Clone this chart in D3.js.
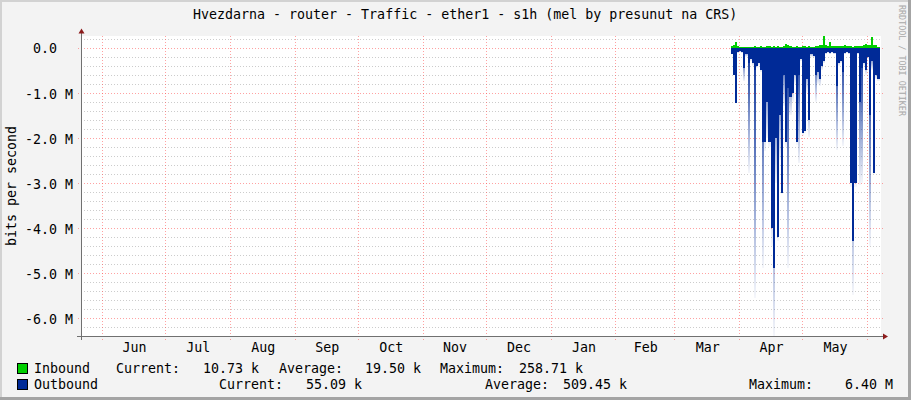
<!DOCTYPE html>
<html>
<head>
<meta charset="utf-8">
<script src="https://cdn.jsdelivr.net/npm/d3@7"></script>
<style>
  html, body { margin: 0; padding: 0; background: #f3f3f3; }
  svg { display: block; font-family: "DejaVu Sans Mono", monospace; }
  text { white-space: pre; }
</style>
</head>
<body>
<svg id="chart" width="911" height="400"></svg>
<script>
// one value per day, starting at dataStart
const dataStart = Date.UTC(2025, 2, 28);

// inbound, kbit/s
const inboundK = [
  30, 70, 120, 40, 15, 20, 15, 25, 20, 15,
  25, 30, 20, 15, 30, 20, 25, 40, 30, 20,
  35, 25, 30, 20, 25, 40, 75, 65, 45, 25,
  20, 30, 25, 20, 35, 40, 25, 30, 25, 20,
  30, 45, 55, 60, 258.71, 50, 40, 130, 45, 35,
  30, 40, 45, 35, 50, 40, 30, 35, 25, 30,
  40, 35, 45, 50, 90, 70, 60, 230, 70, 50,
  10.73
];

// outbound average, Mbit/s (drawn below zero)
const outAvgM = [
  0.15, 0.6, 1.23, 0.1, 0.08, 0.1, 0.45, 0.15, 0.35, 0.25,
  0.35, 0.5, 0.4, 0.35, 0.5, 2.1, 2.1, 1.2, 2.1, 4.0,
  4.9, 2.0, 4.2, 1.5, 3.22, 0.6, 2.1, 0.9, 1.1, 1.0,
  0.6, 2.1, 0.6, 0.25, 1.9, 1.85, 0.7, 1.6, 0.15, 0.18,
  0.6, 0.55, 0.7, 0.4, 0.3, 0.12, 0.1, 0.12, 0.1, 0.12,
  0.85, 0.34, 0.3, 0.53, 0.12, 0.1, 0.12, 3.0, 4.3, 3.0,
  0.12, 1.2, 0.45, 0.35, 0.5, 0.2, 1.5, 0.3, 2.78, 0.6,
  0.7
];

// outbound peaks, Mbit/s (faded part)
const outPeakM = [
  0.15, 0.6, 1.23, 0.12, 0.1, 0.12, 0.75, 0.2, 2.78, 0.3,
  0.4, 5.55, 0.45, 0.4, 0.55, 4.9, 2.3, 2.0, 2.2, 4.4,
  6.40, 3.0, 4.3, 2.5, 3.25, 1.3, 2.2, 4.9, 1.5, 1.2,
  0.8, 2.15, 2.57, 0.3, 1.95, 1.9, 1.0, 1.98, 0.2, 0.22,
  1.2, 0.8, 0.85, 0.5, 0.35, 0.15, 0.12, 0.15, 0.12, 0.15,
  2.28, 0.4, 0.35, 2.18, 0.15, 0.12, 0.15, 3.1, 5.48, 3.1,
  0.15, 3.05, 3.0, 0.4, 0.6, 0.25, 4.4, 0.5, 2.8, 0.7,
  0.75
];

const yTicksM = [0, -1, -2, -3, -4, -5, -6];
const monthLabels = ["Jun", "Jul", "Aug", "Sep", "Oct", "Nov", "Dec", "Jan", "Feb", "Mar", "Apr", "May"];

const legendNames = ["Inbound", "Outbound"];
const legendColors = ["#00CF00", "#002A97"];
const curLabels = ["10.73 k", "55.09 k"];
const avgLabels = ["19.50 k", "509.45 k"];
const maxLabels = ["258.71 k", "6.40 M"];

const title = "Hvezdarna - router - Traffic - ether1 - s1h (mel by presunut na CRS)";

// ---------------------------------------------------------------
const W = 911, H = 400;
const plot = { left: 81, right: 881, top: 36, bottom: 336 };
const FS = "13.3px";

const svg = d3.select("#chart");

const x = d3.scaleUtc()
  .domain([new Date(Date.UTC(2024, 4, 22)), new Date(Date.UTC(2025, 5, 7, 16, 20))])
  .range([plot.left, plot.right]);

const y = d3.scaleLinear()
  .domain([-d3.max(outPeakM) * 1e6, d3.max(inboundK) * 1e3])
  .range([plot.bottom, plot.top]);

const rows = inboundK.map((v, i) => ({
  t: new Date(dataStart + i * 864e5),
  t1: new Date(dataStart + (i + 1) * 864e5),
  inb: v * 1e3,
  avg: -outAvgM[i] * 1e6,
  peak: -outPeakM[i] * 1e6
}));
const stepRows = rows.concat([{ ...rows[rows.length - 1], t: rows[rows.length - 1].t1 }]);

// frame
svg.append("rect").attr("width", W).attr("height", H).attr("fill", "#f3f3f3");
svg.append("rect").attr("x", 0).attr("y", 0).attr("width", W).attr("height", 2).attr("fill", "#d2d2d2");
svg.append("rect").attr("x", 0).attr("y", 0).attr("width", 2).attr("height", H).attr("fill", "#d2d2d2");
svg.append("rect").attr("x", W - 3).attr("y", 0).attr("width", 3).attr("height", H).attr("fill", "#a4a4a4");
svg.append("rect").attr("x", 0).attr("y", H - 3).attr("width", W).attr("height", 3).attr("fill", "#a4a4a4");

// plot background
svg.append("rect")
  .attr("x", plot.left).attr("y", plot.top)
  .attr("width", plot.right - plot.left).attr("height", plot.bottom - plot.top)
  .attr("fill", "#ffffff");

// grid
const grid = svg.append("g").attr("shape-rendering", "crispEdges");
const minor = d3.range(-32, 2).map((i) => i * 0.2e6).filter((v) => Math.abs(v / 1e6 - Math.round(v / 1e6)) > 1e-6);
grid.selectAll("line.minor").data(minor).join("line")
  .attr("x1", plot.left).attr("x2", plot.right)
  .attr("y1", (d) => Math.round(y(d)) + 0.5).attr("y2", (d) => Math.round(y(d)) + 0.5)
  .attr("stroke", "rgba(127,127,127,0.4)").attr("stroke-dasharray", "1,2");

grid.selectAll("line.major").data(yTicksM).join("line")
  .attr("x1", plot.left - 3).attr("x2", plot.right + 3)
  .attr("y1", (d) => Math.round(y(d * 1e6)) + 0.5).attr("y2", (d) => Math.round(y(d * 1e6)) + 0.5)
  .attr("stroke", "rgba(255,70,70,0.5)").attr("stroke-dasharray", "1,2");

const monthStarts = d3.utcMonth.range(x.domain()[0], x.domain()[1]);
grid.selectAll("line.month").data(monthStarts).join("line")
  .attr("x1", (d) => Math.round(x(d)) + 0.5).attr("x2", (d) => Math.round(x(d)) + 0.5)
  .attr("y1", plot.top).attr("y2", plot.bottom + 4)
  .attr("stroke", "rgba(255,70,70,0.5)").attr("stroke-dasharray", "1,2");

// gradient for the faded peaks
const defs = svg.append("defs");
const grad = defs.append("linearGradient").attr("id", "fade")
  .attr("x1", 0).attr("y1", 0).attr("x2", 0).attr("y2", 1);
grad.append("stop").attr("offset", 0).attr("stop-color", "#002A97").attr("stop-opacity", 0.95);
grad.append("stop").attr("offset", 0.35).attr("stop-color", "#002A97").attr("stop-opacity", 0.7);
grad.append("stop").attr("offset", 1).attr("stop-color", "#002A97").attr("stop-opacity", 0.04);

svg.append("g").attr("shape-rendering", "crispEdges")
  .selectAll("rect").data(rows.filter((r) => r.peak < r.avg)).join("rect")
  .attr("x", (d) => x(d.t))
  .attr("width", (d) => x(d.t1) - x(d.t))
  .attr("y", y(0))
  .attr("height", (d) => y(d.peak) - y(0))
  .attr("fill", "url(#fade)");

// outbound area
svg.append("path").datum(stepRows)
  .attr("d", d3.area().curve(d3.curveStepAfter)
    .x((d) => x(d.t)).y0(y(0)).y1((d) => y(d.avg)))
  .attr("fill", legendColors[1]).attr("shape-rendering", "crispEdges");

// inbound area
svg.append("path").datum(stepRows)
  .attr("d", d3.area().curve(d3.curveStepAfter)
    .x((d) => x(d.t)).y0(y(0)).y1((d) => y(d.inb)))
  .attr("fill", legendColors[0]).attr("shape-rendering", "crispEdges");

// axes
const axisColor = "#707070";
svg.append("line")
  .attr("x1", plot.left - 4).attr("x2", plot.right + 3)
  .attr("y1", plot.bottom + 0.5).attr("y2", plot.bottom + 0.5)
  .attr("stroke", axisColor).attr("shape-rendering", "crispEdges");
svg.append("line")
  .attr("x1", plot.left + 0.5).attr("x2", plot.left + 0.5)
  .attr("y1", plot.bottom + 4).attr("y2", plot.top - 3)
  .attr("stroke", axisColor).attr("shape-rendering", "crispEdges");
const arrowColor = "#8c1c1c";
svg.append("path")
  .attr("d", `M${plot.left - 2.5},${plot.top - 2.5} L${plot.left + 3.5},${plot.top - 2.5} L${plot.left + 0.5},${plot.top - 7.5} Z`)
  .attr("fill", arrowColor);
svg.append("path")
  .attr("d", `M${plot.right + 2},${plot.bottom - 2.5} L${plot.right + 2},${plot.bottom + 3.5} L${plot.right + 7},${plot.bottom + 0.5} Z`)
  .attr("fill", arrowColor);

// y tick labels
svg.append("g").selectAll("text").data(yTicksM).join("text")
  .attr("x", 73)
  .attr("y", (d) => y(d * 1e6) + 5.8)
  .attr("text-anchor", "end")
  .attr("font-size", FS)
  .attr("fill", "#000")
  .text((d) => (d === 0 ? "0.0  " : `${d.toFixed(1)} M`));

// month labels
svg.append("g").selectAll("text").data(monthLabels).join("text")
  .attr("x", (d, i) => (x(monthStarts[i]) + x(monthStarts[i + 1])) / 2 + 1)
  .attr("y", 352)
  .attr("text-anchor", "middle")
  .attr("font-size", FS)
  .attr("fill", "#000")
  .text((d) => d);

// title
svg.append("text")
  .attr("x", 193).attr("y", 19)
  .attr("font-size", FS).attr("fill", "#000")
  .text(title);

// y axis title
svg.append("text")
  .attr("transform", `translate(16,${(plot.top + plot.bottom) / 2}) rotate(-90)`)
  .attr("text-anchor", "middle")
  .attr("font-size", FS).attr("fill", "#000")
  .text("bits per second");

// credit
svg.append("text")
  .attr("transform", "translate(899,5) rotate(90)")
  .attr("font-size", "8.4px").attr("fill", "#a8a8a8")
  .text("RRDTOOL / TOBI OETIKER");

// legend
const legendRowsY = [373, 389];
const legendCols = [
  { curL: 116, curV: 259, avgL: 279, avgV: 421, maxL: 440, maxV: 583 },
  { curL: 219, curV: 362, avgL: 485, avgV: 627, maxL: 749, maxV: 893 }
];
const lg = svg.append("g").attr("font-size", FS).attr("fill", "#000");
legendNames.forEach((name, i) => {
  const by = legendRowsY[i];
  const c = legendCols[i];
  lg.append("rect")
    .attr("x", 17.5).attr("y", by - 9.5).attr("width", 10).attr("height", 10)
    .attr("fill", legendColors[i]).attr("stroke", "#000").attr("stroke-width", 1);
  lg.append("text").attr("x", 34).attr("y", by).text(name);
  lg.append("text").attr("x", c.curL).attr("y", by).text("Current:");
  lg.append("text").attr("x", c.curV).attr("y", by).attr("text-anchor", "end").text(curLabels[i]);
  lg.append("text").attr("x", c.avgL).attr("y", by).text("Average:");
  lg.append("text").attr("x", c.avgV).attr("y", by).attr("text-anchor", "end").text(avgLabels[i]);
  lg.append("text").attr("x", c.maxL).attr("y", by).text("Maximum:");
  lg.append("text").attr("x", c.maxV).attr("y", by).attr("text-anchor", "end").text(maxLabels[i]);
});
</script>
</body>
</html>
